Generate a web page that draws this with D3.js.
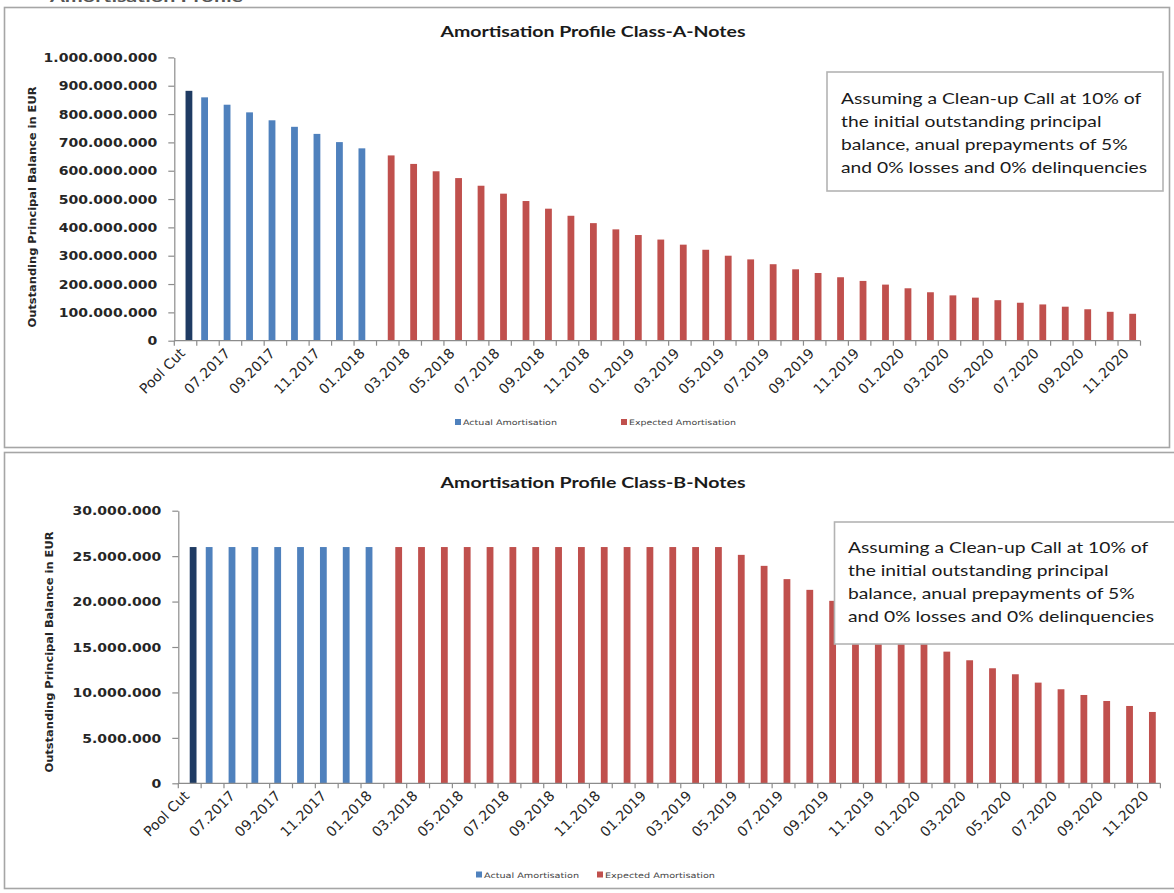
<!DOCTYPE html>
<html>
<head>
<meta charset="utf-8">
<script src="https://cdn.jsdelivr.net/npm/d3@7"></script>
<style>
  body { margin: 0; background: #fff; }
  svg { display: block; }
</style>
</head>
<body>
<svg id="chart" width="1174" height="893"></svg>
<script>
// Months of the amortisation schedule (first slot is the pool cut)
const categories = [
  "Pool Cut", "06.2017", "07.2017", "08.2017", "09.2017", "10.2017", "11.2017", "12.2017",
  "01.2018", "02.2018", "03.2018", "04.2018", "05.2018", "06.2018", "07.2018", "08.2018",
  "09.2018", "10.2018", "11.2018", "12.2018", "01.2019", "02.2019", "03.2019", "04.2019",
  "05.2019", "06.2019", "07.2019", "08.2019", "09.2019", "10.2019", "11.2019", "12.2019",
  "01.2020", "02.2020", "03.2020", "04.2020", "05.2020", "06.2020", "07.2020", "08.2020",
  "09.2020", "10.2020", "11.2020"
];
// Labels printed under the axis (every second month)
const tickLabels = [
  "Pool Cut", "07.2017", "09.2017", "11.2017", "01.2018", "03.2018", "05.2018", "07.2018",
  "09.2018", "11.2018", "01.2019", "03.2019", "05.2019", "07.2019", "09.2019", "11.2019",
  "01.2020", "03.2020", "05.2020", "07.2020", "09.2020", "11.2020"
];
const seriesNames = ["Actual Amortisation", "Expected Amortisation"];

// Class A notes, outstanding principal in EUR
const poolCutA = 882000000;
const actualA = [859000000, 833000000, 806000000, 778000000, 755000000, 730000000, 701000000, 679000000];
const expectedA = [
  654000000, 624000000, 598000000, 574000000, 547000000, 519000000, 493000000, 466000000,
  441000000, 415000000, 393000000, 373000000, 357000000, 339000000, 321000000, 300000000,
  287000000, 270000000, 252000000, 239000000, 224000000, 211000000, 198000000, 185000000,
  171000000, 160000000, 152000000, 143000000, 134000000, 128000000, 120000000, 111000000,
  102000000, 95000000
];
const yTicksA = [0, 100000000, 200000000, 300000000, 400000000, 500000000, 600000000, 700000000, 800000000, 900000000, 1000000000];

// Class B notes, outstanding principal in EUR
const poolCutB = 26000000;
const actualB = [26000000, 26000000, 26000000, 26000000, 26000000, 26000000, 26000000, 26000000];
const expectedB = [
  26000000, 26000000, 26000000, 26000000, 26000000, 26000000, 26000000, 26000000,
  26000000, 26000000, 26000000, 26000000, 26000000, 26000000, 26000000, 25140000,
  23930000, 22470000, 21290000, 20080000, 18800000, 17700000, 16600000, 15500000,
  14490000, 13540000, 12660000, 12000000, 11080000, 10350000, 9720000, 9060000,
  8510000, 7850000
];
const yTicksB = [0, 5000000, 10000000, 15000000, 20000000, 25000000, 30000000];

const noteText = [
  "Assuming a Clean-up Call at 10% of",
  "the initial outstanding principal",
  "balance, anual prepayments of 5%",
  "and 0% losses and 0% delinquencies"
];

const COLORS = { pool: "#1f3b63", actual: "#4f81bd", expected: "#c0504d", axis: "#8c8c8c", text: "#262626" };
const FONT_NUM = "'DejaVu Sans', sans-serif";
const FONT_TXT = "Lato, 'Open Sans', sans-serif";

const fmt = d3.formatLocale({ decimal: ",", thousands: ".", grouping: [3], currency: ["", "€"] }).format(",d");
const svg = d3.select("#chart");

// widen a text element by a factor (the drawing is slightly stretched horizontally)
function stretch(sel, factor) {
  sel.each(function () {
    const w = this.getComputedTextLength();
    d3.select(this).attr("textLength", w * factor).attr("lengthAdjust", "spacingAndGlyphs");
  });
}
function fitWidth(sel, width) {
  sel.attr("textLength", width).attr("lengthAdjust", "spacingAndGlyphs");
}

// heading of the page section, running off the top edge
svg.append("text")
  .attr("x", 50).attr("y", 1.5)
  .style("font-family", FONT_TXT).style("font-size", "15px").style("font-weight", "bold")
  .attr("fill", "#555").text("Amortisation Profile")
  .call(fitWidth, 193);

function drawPanel(cfg) {
  const g = svg.append("g");

  g.append("rect")
    .attr("x", cfg.frame.x).attr("y", cfg.frame.y)
    .attr("width", cfg.frame.w).attr("height", cfg.frame.h)
    .attr("fill", "#fff").attr("stroke", "#a6a6a6").attr("stroke-width", 1.6);

  const x = d3.scaleBand().domain(categories).range([cfg.x0, cfg.x1]).paddingInner(0).paddingOuter(0);
  const half = 6.8;
  const slot = d3.scaleBand().domain(["actual", "expected"])
    .range([x.bandwidth() / 2 - half, x.bandwidth() / 2 + half]);
  const y = d3.scaleLinear().domain([0, cfg.yMax]).range([cfg.yZero, cfg.yTop]);

  const rows = [{ cat: categories[0], slot: "expected", value: cfg.poolCut, color: COLORS.pool }]
    .concat(cfg.actual.map((v, i) => ({ cat: categories[1 + i], slot: "actual", value: v, color: COLORS.actual })))
    .concat(cfg.expected.map((v, i) => ({ cat: categories[1 + cfg.actual.length + i], slot: "expected", value: v, color: COLORS.expected })));

  g.append("g").selectAll("rect").data(rows).join("rect")
    .attr("x", d => x(d.cat) + slot(d.slot))
    .attr("width", slot.bandwidth())
    .attr("y", d => y(d.value))
    .attr("height", d => y(0) - y(d.value))
    .attr("fill", d => d.color);

  // value axis
  const yAxis = g.append("g").attr("transform", `translate(${cfg.x0},0)`)
    .call(d3.axisLeft(y).tickValues(cfg.yTicks).tickFormat(fmt).tickSize(6).tickSizeOuter(0).tickPadding(11));
  yAxis.select(".domain").attr("stroke", COLORS.axis).attr("stroke-width", 1.2);
  yAxis.selectAll(".tick line").attr("stroke", COLORS.axis).attr("stroke-width", 1.2);
  yAxis.selectAll(".tick text")
    .style("font-family", FONT_NUM).style("font-size", "13px").style("font-weight", "bold")
    .attr("fill", COLORS.text)
    .call(stretch, 1.08);

  // category axis: line, boundary ticks and rotated labels
  const xAxis = g.append("g");
  xAxis.append("line")
    .attr("x1", cfg.x0).attr("x2", cfg.x1).attr("y1", y(0)).attr("y2", y(0))
    .attr("stroke", COLORS.axis).attr("stroke-width", 1.2);
  const bounds = categories.map(c => x(c)).concat([cfg.x1]);
  xAxis.selectAll("line.bt").data(bounds).join("line").attr("class", "bt")
    .attr("x1", d => d).attr("x2", d => d)
    .attr("y1", y(0)).attr("y2", y(0) + 5)
    .attr("stroke", COLORS.axis).attr("stroke-width", 1.2);
  xAxis.selectAll("text").data(tickLabels).join("text")
    .attr("transform", d => `translate(${x(d) + x.bandwidth() / 2 - 3},${y(0) + 10}) rotate(-45)`)
    .attr("text-anchor", "end").attr("dy", "0.35em")
    .style("font-family", FONT_NUM).style("font-size", "14px")
    .attr("fill", COLORS.text)
    .text(d => d);

  // titles
  g.append("text")
    .attr("x", cfg.titleX).attr("y", cfg.titleY).attr("text-anchor", "middle")
    .style("font-family", FONT_TXT).style("font-size", "15px").style("font-weight", "bold")
    .attr("fill", "#1a1a1a").text(cfg.title)
    .call(fitWidth, 305);

  g.append("text")
    .attr("transform", `translate(${cfg.yTitleX},${cfg.yTitleY}) rotate(-90)`)
    .attr("text-anchor", "middle")
    .style("font-family", FONT_NUM).style("font-size", "10px").style("font-weight", "bold")
    .attr("fill", COLORS.text).text("Outstanding Principal Balance in EUR")
    .call(fitWidth, 241);

  // assumption note
  g.append("rect")
    .attr("x", cfg.box.x).attr("y", cfg.box.y).attr("width", cfg.box.w).attr("height", cfg.box.h)
    .attr("fill", "#fff").attr("stroke", "#b3b3b3").attr("stroke-width", 1.6);
  const lines = g.append("g").selectAll("text").data(noteText).join("text")
    .attr("x", cfg.box.tx).attr("y", (d, i) => cfg.box.ty + i * 23.1)
    .style("font-family", FONT_TXT).style("font-size", "15px")
    .attr("fill", "#1a1a1a").text(d => d);
  const lastW = lines.nodes()[3].getComputedTextLength();
  lines.call(stretch, 306 / lastW);

  // legend
  const leg = g.append("g");
  seriesNames.forEach((name, i) => {
    const lx = cfg.legend.x[i];
    leg.append("rect")
      .attr("x", lx).attr("y", cfg.legend.y - 3.5).attr("width", 6).attr("height", 6)
      .attr("fill", i === 0 ? COLORS.actual : COLORS.expected);
    leg.append("text")
      .attr("x", lx + 8).attr("y", cfg.legend.y).attr("dy", "0.35em")
      .style("font-family", FONT_NUM).style("font-size", "7.5px")
      .attr("fill", "#444").text(name)
      .call(fitWidth, cfg.legend.w[i]);
  });
}

drawPanel({
  frame: { x: 4.5, y: 7.5, w: 1165, h: 440 },
  x0: 174.3, x1: 1140.5, yTop: 57.4, yZero: 340.7, yMax: 1000000000, yTicks: yTicksA,
  poolCut: poolCutA, actual: actualA, expected: expectedA,
  title: "Amortisation Profile Class-A-Notes", titleX: 593, titleY: 37,
  yTitleX: 36, yTitleY: 207,
  box: { x: 827, y: 72, w: 336, h: 119, tx: 841, ty: 104 },
  legend: { y: 422.5, x: [455, 621], w: [94, 107] }
});

drawPanel({
  frame: { x: 4.5, y: 452.5, w: 1180, h: 436 },
  x0: 178.3, x1: 1160.4, yTop: 510.7, yZero: 783.3, yMax: 30000000, yTicks: yTicksB,
  poolCut: poolCutB, actual: actualB, expected: expectedB,
  title: "Amortisation Profile Class-B-Notes", titleX: 593, titleY: 488,
  yTitleX: 53, yTitleY: 652,
  box: { x: 834.5, y: 522, w: 345, h: 122, tx: 848, ty: 553 },
  legend: { y: 875, x: [476, 597], w: [95, 110] }
});
</script>
</body>
</html>
